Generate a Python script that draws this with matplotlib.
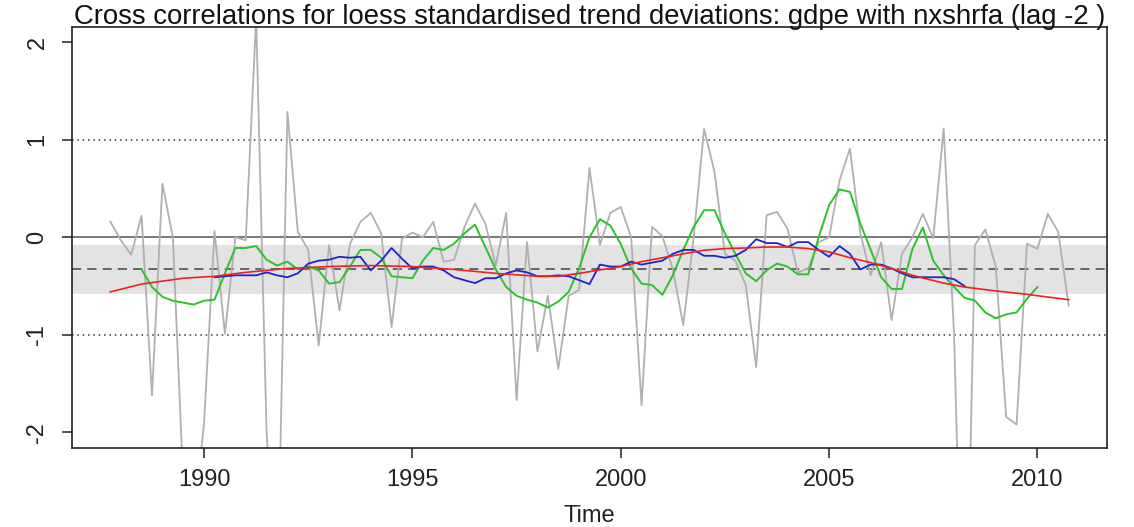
import numpy as np
import matplotlib
matplotlib.use("Agg")
import matplotlib.pyplot as plt

plt.rcParams['font.family'] = ['Liberation Sans', 'DejaVu Sans']

# quarterly series, first point 1987 Q4
start = 1987.75
freq = 4

# raw standardised deviations (grey)
raw = [0.16, -0.03, -0.18, 0.22, -1.62, 0.55, 0.00, -2.52, -2.94, -1.90,
       0.065, -0.99, 0.00, -0.03, 2.25, -2.00, -3.85, 1.285, 0.055, -0.13,
       -1.11, -0.08, -0.75, -0.07, 0.157, 0.25, 0.04, -0.92, -0.014, 0.048,
       0.00, 0.157, -0.25, -0.23, 0.106, 0.345, 0.14, -0.29, 0.25, -1.67,
       -0.05, -1.17, -0.60, -1.35, -0.60, -0.54, 0.71, -0.08, 0.25, 0.31,
       0.00, -1.72, 0.106, 0.01, -0.33, -0.90, 0.00, 1.11, 0.67, -0.17,
       -0.24, -0.49, -1.33, 0.225, 0.26, 0.09, -0.36, -0.32, -0.05, 0.00,
       0.58, 0.91, 0.04, -0.39, -0.05, -0.85, -0.17, 0.00, 0.24, -0.01,
       1.115, -1.00, -5.00, -0.08, 0.08, -0.30, -1.84, -1.92, -0.065, -0.12,
       0.24, 0.055, -0.70]

# short moving average (green), starts 1988 Q3
green_start = 1988.5
green = [-0.33, -0.51, -0.61, -0.65, -0.67, -0.69, -0.65, -0.64, -0.37, -0.11,
         -0.11, -0.09, -0.23, -0.29, -0.25, -0.33, -0.30, -0.34, -0.475, -0.46,
         -0.30, -0.13, -0.13, -0.21, -0.40, -0.41, -0.42, -0.24, -0.11, -0.13,
         -0.065, 0.04, 0.13, -0.10, -0.33, -0.51, -0.60, -0.64, -0.67, -0.72,
         -0.66, -0.56, -0.32, 0.00, 0.185, 0.12, -0.07, -0.32, -0.475, -0.49,
         -0.59, -0.39, -0.13, 0.106, 0.277, 0.277, 0.04, -0.17, -0.37, -0.45,
         -0.34, -0.27, -0.30, -0.38, -0.38, 0.00, 0.33, 0.49, 0.465, 0.14,
         -0.13, -0.41, -0.53, -0.53, -0.12, 0.10, -0.24, -0.39, -0.51, -0.62,
         -0.65, -0.77, -0.83, -0.79, -0.77, -0.63, -0.51]

# long moving average (blue), starts 1990 Q2
blue_start = 1990.25
blue = [-0.41, -0.40, -0.39, -0.39, -0.39, -0.36, -0.39, -0.41, -0.37, -0.27,
        -0.24, -0.23, -0.20, -0.21, -0.20, -0.34, -0.24, -0.11, -0.22, -0.32,
        -0.30, -0.30, -0.34, -0.41, -0.44, -0.47, -0.42, -0.42, -0.37, -0.34,
        -0.36, -0.40, -0.40, -0.39, -0.40, -0.44, -0.48, -0.28, -0.30, -0.30,
        -0.25, -0.28, -0.26, -0.24, -0.17, -0.13, -0.13, -0.19, -0.19, -0.21,
        -0.19, -0.13, -0.02, -0.06, -0.06, -0.10, -0.05, -0.05, -0.13, -0.20,
        -0.09, -0.17, -0.33, -0.28, -0.28, -0.32, -0.37, -0.41, -0.41, -0.41,
        -0.41, -0.43, -0.50]

# loess trend (red)
red_t = [1987.75, 1988.5, 1989.5, 1990.25, 1991.0, 1992.0, 1993.0, 1994.0,
         1995.0, 1996.0, 1997.0, 1998.0, 1998.5, 1999.0, 2000.0, 2000.5,
         2001.0, 2001.5, 2002.0, 2002.5, 2003.0, 2003.5, 2004.0, 2004.5,
         2005.0, 2005.5, 2006.0, 2006.5, 2007.0, 2007.75, 2008.25, 2009.0,
         2009.75, 2010.75]
red = [-0.56, -0.48, -0.42, -0.40, -0.36, -0.32, -0.30, -0.29,
       -0.30, -0.33, -0.37, -0.40, -0.40, -0.37, -0.30, -0.25,
       -0.21, -0.17, -0.133, -0.116, -0.11, -0.10, -0.10, -0.116,
       -0.15, -0.21, -0.26, -0.32, -0.39, -0.47, -0.51, -0.55,
       -0.585, -0.64]

mean_level = -0.33
band = (-0.58, -0.08)
xticks = [1990, 1995, 2000, 2005, 2010]
yticks = [-2, -1, 0, 1, 2]

title = "Cross correlations for loess standardised trend deviations: gdpe with nxshrfa (lag -2 )"


def qtimes(t0, n):
    return t0 + np.arange(n) / freq


t_raw = qtimes(start, len(raw))
t_green = qtimes(green_start, len(green))
t_blue = qtimes(blue_start, len(blue))

fig = plt.figure(figsize=(11.34, 5.27), dpi=100)
ax = fig.add_axes([72 / 1134, 79 / 527, 1035 / 1134, 421 / 527])

span = t_raw[-1] - t_raw[0]
ax.set_xlim(t_raw[0] - 0.04 * span, t_raw[-1] + 0.04 * span)
ax.set_ylim(-2.16, 2.155)

ax.axhspan(band[0], band[1], color='#e3e3e3', lw=0, zorder=0)
ax.axhline(0, color='#555555', lw=1.1, zorder=1)
ax.axhline(mean_level, color='#444444', lw=1.1, ls=(0, (6, 4)), zorder=1)
ax.axhline(1, color='#333333', lw=1.1, ls=(0, (1, 2.5)), zorder=1)
ax.axhline(-1, color='#333333', lw=1.1, ls=(0, (1, 2.5)), zorder=1)

ax.plot(t_raw, raw, color='#b0b0b0', lw=1.3, zorder=2)
ax.plot(t_green, green, color='#2ec12e', lw=1.4, zorder=3)
ax.plot(t_blue, blue, color='#2222cc', lw=1.3, zorder=4)
ax.plot(red_t, red, color='#ee2222', lw=1.2, zorder=5)

ax.set_xticks(xticks)
ax.set_yticks(yticks)
ax.set_yticklabels([str(v) for v in yticks], rotation=90, va='center')
ax.tick_params(axis='both', direction='out', length=7, width=1.1,
               labelsize=17, color='#222222', labelcolor='#222222')
ax.tick_params(axis='x', pad=8)
ax.tick_params(axis='y', pad=10)
for s in ax.spines.values():
    s.set_linewidth(1.2)
    s.set_color('#222222')

ax.set_xlabel('Time', fontsize=17, color='#222222', labelpad=10)

fig.text(ax.get_position().x0 + ax.get_position().width / 2, 1 - 23.5 / 527, title,
         ha='center', va='baseline', fontsize=19.8, color='#111111')

fig.savefig('out.png', dpi=100)
